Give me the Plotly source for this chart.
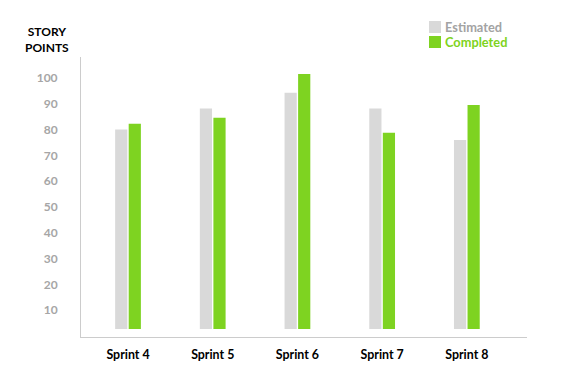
import plotly.graph_objects as go

categories = ["Sprint 4", "Sprint 5", "Sprint 6", "Sprint 7", "Sprint 8"]
estimated = [80.0, 88.1, 94.2, 88.1, 75.9]
completed = [82.2, 84.6, 101.5, 78.7, 89.5]
tick_values = [10, 20, 30, 40, 50, 60, 70, 80, 90, 100]
series_names = ["Estimated", "Completed"]

BASE = 2.7
GRAY = "#d9d9d9"
GREEN = "#7ed321"
LEGEND_TEXT = ["#a3a3a3", GREEN]
FONT = "Lato"

L, R, T, B, W, H = 81, 39, 57, 41, 566, 378
PW, PH = W - L - R, H - T - B


def px_x(x):
    return (x - L) / PW


def px_y(y):
    return (H - B - y) / PH


fig = go.Figure()
for vals, col, nm in [(estimated, GRAY, series_names[0]), (completed, GREEN, series_names[1])]:
    fig.add_trace(go.Bar(
        x=categories, y=[v - BASE for v in vals], base=BASE, name=nm,
        marker=dict(color=col, line=dict(width=0)), hoverinfo="skip",
    ))

annotations = [dict(
    text="STORY<br>POINTS", xref="paper", yref="paper",
    x=px_x(46.5), y=px_y(22), xanchor="center", yanchor="top",
    showarrow=False, align="center",
    font=dict(family=FONT, size=12, color="#000", weight="bold"),
)]
for i, (nm, sq, tc) in enumerate(zip(series_names, [GRAY, GREEN], LEGEND_TEXT)):
    cy = 27 + 15 * i
    annotations.append(dict(
        text=" ", xref="paper", yref="paper", x=px_x(435), y=px_y(cy),
        xanchor="center", yanchor="middle", width=12, height=12,
        bgcolor=sq, borderpad=0, borderwidth=0, showarrow=False,
        font=dict(size=1),
    ))
    annotations.append(dict(
        text=nm, xref="paper", yref="paper", x=px_x(443), y=px_y(cy + 0.5),
        xanchor="left", yanchor="middle", showarrow=False,
        font=dict(family=FONT, size=12.8, color=tc, weight="bold"),
    ))

fig.update_layout(
    width=W, height=H,
    margin=dict(l=L, r=R, t=T, b=B, autoexpand=False),
    paper_bgcolor="white", plot_bgcolor="white",
    barmode="group", bargap=0.68, bargroupgap=0.1,
    font=dict(family=FONT, size=12, color="#000"),
    showlegend=False,
    xaxis=dict(
        range=[-0.555, 4.71], showline=True, linecolor="#cccccc", linewidth=1,
        showgrid=False, zeroline=False, ticks="",
        tickfont=dict(family=FONT, size=12.4, color="#000", weight="bold"),
        ticklabelstandoff=6,
    ),
    yaxis=dict(
        range=[-0.4, 108.1], tickvals=tick_values, showline=True,
        linecolor="#cccccc", linewidth=1, showgrid=False, zeroline=False,
        ticks="", tickfont=dict(family=FONT, size=12, color="#a6a6a6", weight="bold"),
        ticklabelstandoff=20,
    ),
    annotations=annotations,
)

fig.write_html(
    "out.html",
    config={"displayModeBar": False},
    post_script="document.body.style.margin='0';document.body.style.overflow='hidden';",
)
